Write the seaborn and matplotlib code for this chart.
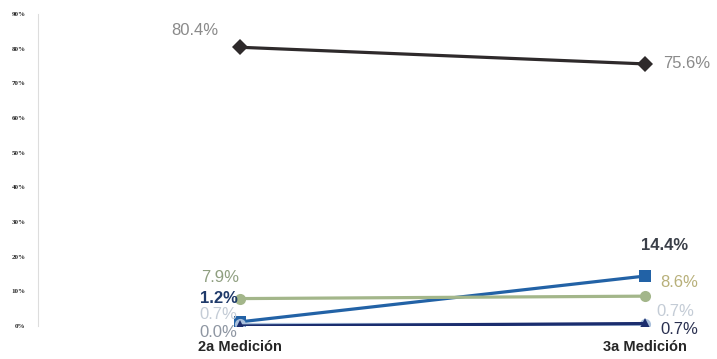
import pandas as pd
import seaborn as sns
import matplotlib.pyplot as plt
from matplotlib.ticker import PercentFormatter

mediciones = ["2a Medición", "3a Medición"]
series = ["s1", "s2", "s3", "s4", "s5"]
valores = {
    "s1": [0.804, 0.756],
    "s2": [0.012, 0.144],
    "s3": [0.079, 0.086],
    "s4": [0.007, 0.007],
    "s5": [0.000, 0.007],
}
colores = {"s1": "#2e2a2b", "s2": "#2262a6", "s3": "#a3b68a", "s4": "#a9c0dc", "s5": "#1b2d6e"}
marcadores = {"s1": "D", "s2": "s", "s3": "o", "s4": "o", "s5": "^"}

rows = []
for s in series:
    for m, v in zip(mediciones, valores[s]):
        rows.append({"medicion": m, "serie": s, "valor": v})
df = pd.DataFrame(rows)

sns.set_style("white")
plt.rcParams["font.family"] = ["Liberation Sans", "DejaVu Sans"]
fig = plt.figure(figsize=(7.17, 3.59), dpi=100)
ax = fig.add_axes([0.053, 0.092, 0.947, 0.869])

sns.lineplot(data=df, x="medicion", y="valor", hue="serie", style="serie",
             palette=colores, markers=marcadores, dashes=False, linewidth=2.3,
             markersize=8, markeredgewidth=0, legend=False, ax=ax, sort=False)

ax.set_ylim(0, 0.9)
ax.set_xlim(-0.5, 1.178)
ax.set_yticks([i / 10 for i in range(10)])
ax.yaxis.set_major_formatter(PercentFormatter(1.0, decimals=0))
ax.tick_params(axis="y", labelsize=5, length=0, pad=9)
for t in ax.get_yticklabels():
    t.set_fontweight("bold")
    t.set_family("Liberation Serif")
ax.tick_params(axis="x", labelsize=10.5, length=0, pad=10)
for t in ax.get_xticklabels():
    t.set_fontweight("bold")
ax.set_xlabel("")
ax.set_ylabel("")
for side in ["top", "right", "bottom"]:
    ax.spines[side].set_visible(False)
ax.spines["left"].set_color("#dddddd")
ax.spines["left"].set_linewidth(0.8)

# etiquetas izquierda (texto, color, desplazamiento en puntos, peso)
izq = [
    ("s1", "80.4%", "#8a8a8a", (-16, 12), "normal"),
    ("s3", "7.9%", "#8f9f80", (-1, 15), "normal"),
    ("s2", "1.2%", "#1f3a6a", (-2, 17), "bold"),
    ("s4", "0.7%", "#c4ccd6", (-2, 6.5), "normal"),
    ("s5", "0.0%", "#8e96a2", (-2, -4.5), "normal"),
]
for s, txt, c, off, w in izq:
    ax.annotate(txt, (0, valores[s][0]), xytext=off, textcoords="offset points",
                ha="right", va="center", fontsize=12, color=c, fontweight=w)

der = [
    ("s1", "75.6%", "#8a8a8a", (13, 0), "left", "normal"),
    ("s2", "14.4%", "#3a3f48", (14, 22), "center", "bold"),
    ("s3", "8.6%", "#b8b07a", (11, 10), "left", "normal"),
    ("s4", "0.7%", "#c4ccd6", (8.5, 8.5), "left", "normal"),
    ("s5", "0.7%", "#2a3050", (11, -4.5), "left", "normal"),
]
for s, txt, c, off, ha, w in der:
    ax.annotate(txt, (1, valores[s][1]), xytext=off, textcoords="offset points",
                ha=ha, va="center", fontsize=12, color=c, fontweight=w)

fig.savefig("out.png", dpi=100)
